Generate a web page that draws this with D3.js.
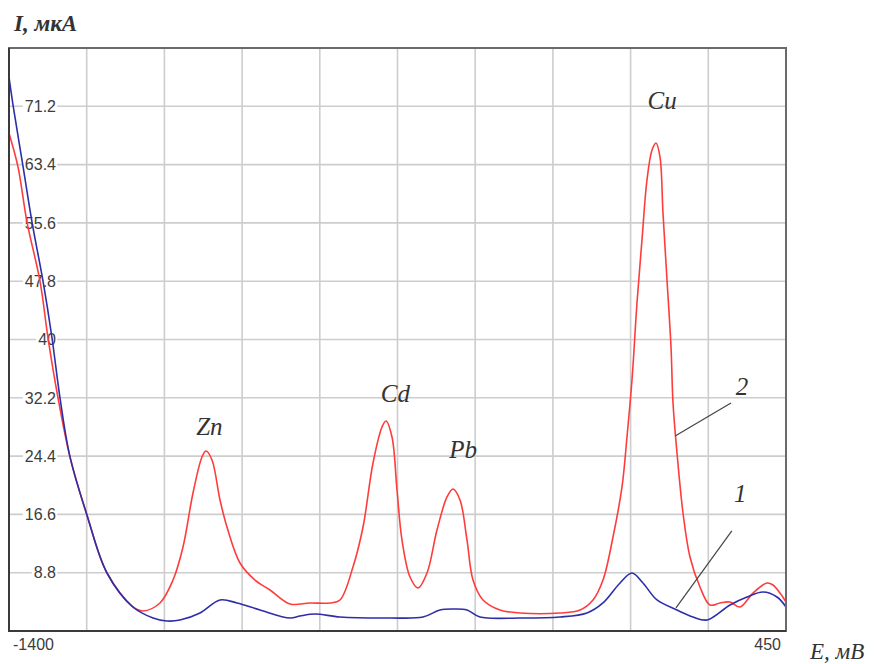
<!DOCTYPE html>
<html>
<head>
<meta charset="utf-8">
<script src="https://d3js.org/d3.v7.min.js"></script>
<style>
  body { margin: 0; background: #fff; }
  svg { display: block; }
</style>
</head>
<body>
<svg width="877" height="664"></svg>
<script>
// potential E, mV and current I, uA
var curve1E = [-1400, -1390.5, -1366.7, -1345.2, -1319, -1297.6, -1278.6, -1254.8, -1214.3, -1166.7,
    -1104.8, -1057.1, -1023.8, -992.9, -945.2, -897.6, -857.1, -802.4, -731, -707.1, -671.4, -611.9,
    -492.9, -414.3, -373.8, -342.9, -309.5, -278.6, -183.3, -88.1, -23.8, 14.3, 54.8, 83.3, 109.5,
    142.9, 190.5, 228.6, 261.9, 316.7, 357.1, 395.2, 428.6, 450];
var curve1I = [75.1, 71.4, 63.2, 55.7, 47.8, 40.2, 32.2, 24.3, 16.5, 8.76,
    4.21, 2.74, 2.34, 2.47, 3.41, 5.15, 4.75, 3.81, 2.74, 3.01, 3.27, 2.87,
    2.74, 2.87, 3.81, 3.94, 3.81, 2.87, 2.74, 2.87, 3.41, 4.75, 7.42, 8.76, 7.42,
    5.15, 3.81, 2.87, 2.47, 4.48, 5.55, 6.22, 5.55, 4.21];

var curve2E = [-1400, -1378.6, -1357.1, -1326.2, -1307.1, -1283.3, -1254.8, -1214.3, -1166.7, -1104.8,
    -1081, -1040.5, -1009.5, -985.7, -961.9, -940.5, -931, -916.7, -897.6, -881, -850, -814.3,
    -778.6, -731, -683.3, -635.7, -611.9, -581, -557.1, -533.3, -511.9, -502.4, -488.1, -476.2,
    -464.3, -445.2, -426.2, -404.8, -381, -357.1, -342.9, -326.2, -309.5, -295.2, -271.4, -231,
    -183.3, -88.1, -40.5, -9.5, 14.3, 38.1, 59.5, 71.4, 83.3, 95.2, 107.1, 119, 131, 140.5, 150,
    157.1, 166.7, 176.2, 181, 190.5, 204.8, 221.4, 245.2, 269, 292.9, 316.7, 340.5, 371.4, 404.8,
    419, 435.7, 450];
var curve2I = [67.6, 63.1, 55.7, 47.8, 40.2, 32.2, 24.3, 16.5, 8.76, 4.21,
    3.68, 4.75, 7.82, 12.24, 19.46, 24.28, 25.08, 23.88, 18.53, 14.91, 10.1, 7.82,
    6.49, 4.61, 4.75, 4.75, 5.15, 9.56, 14.91, 23.48, 28.29, 29.1, 26.96, 19.86,
    13.17, 8.22, 6.75, 8.76, 14.51, 18.93, 20, 18.53, 13.17, 7.82, 5.15, 3.81,
    3.41, 3.41, 3.81, 5.15, 7.82, 13.58, 20.27, 26.96, 34.58, 44.88, 53.31, 61.34, 65.35, 66.29, 64.41,
    56.92, 47.96, 39, 31.5, 24.81, 16.79, 10.9, 6.89, 4.48, 4.75, 4.88, 4.21, 6.08, 7.42,
    7.15, 6.08, 4.88];

var yTicks = [8.8, 16.6, 24.4, 32.2, 40, 47.8, 55.6, 63.4, 71.2];
var xGrid = [-1215, -1030, -845, -660, -475, -290, -105, 80, 265];
var xTickLabels = ["-1400", "450"];

var peaks = ["Zn", "Cd", "Pb", "Cu"];
var peakE = [-923, -480, -319, 155];
var peakI = [27.2, 31.6, 24.2, 70.8];

// curve numbers: label position and leader line ends (E, I)
var curveNames = ["2", "1"];
var nameE = [345, 341];
var nameI = [32.6, 18.3];
var leadE1 = [186, 188];
var leadI1 = [27.1, 4.1];
var leadE2 = [319, 321];
var leadI2 = [31.5, 14.4];

function createChart() {
    var svg = d3.select("svg"),
        margin = { top: 48, right: 91, bottom: 33, left: 9 },
        width = +svg.attr("width") - margin.left - margin.right,
        height = +svg.attr("height") - margin.top - margin.bottom,
        g = svg.append("g").attr("transform", "translate(" + margin.left + "," + margin.top + ")");

    var x = d3.scaleLinear().domain([-1400, 450]).range([0, width]);
    var y = d3.scaleLinear().domain([1, 79]).range([height, 0]);

    // grid
    g.append("g").selectAll("line")
        .data(xGrid)
        .enter().append("line")
        .attr("x1", function(d) { return x(d); })
        .attr("x2", function(d) { return x(d); })
        .attr("y1", 0)
        .attr("y2", height)
        .attr("stroke", "#cdcdcd")
        .attr("stroke-width", 1.6);

    g.append("g").selectAll("line")
        .data(yTicks)
        .enter().append("line")
        .attr("x1", 0)
        .attr("x2", width)
        .attr("y1", function(d) { return y(d); })
        .attr("y2", function(d) { return y(d); })
        .attr("stroke", "#cdcdcd")
        .attr("stroke-width", 1.6);

    // y tick labels sit on a white patch over the grid
    var yLab = g.append("g").selectAll("g")
        .data(yTicks)
        .enter().append("g")
        .attr("transform", function(d) { return "translate(47," + y(d) + ")"; });

    yLab.append("text")
        .attr("text-anchor", "end")
        .attr("dy", "0.36em")
        .attr("font-family", "Liberation Sans, Arial, sans-serif")
        .attr("font-size", 16)
        .attr("fill", "#3c3c3c")
        .text(function(d) { return d; });

    yLab.each(function() {
        var t = d3.select(this).select("text").node().getBBox();
        d3.select(this).insert("rect", "text")
            .attr("x", t.x - 2)
            .attr("y", t.y + 1)
            .attr("width", t.width + 3)
            .attr("height", t.height - 2)
            .attr("fill", "#fff");
    });

    // curves
    var line = d3.line()
        .x(function(d) { return x(d[0]); })
        .y(function(d) { return y(d[1]); })
        .curve(d3.curveCatmullRom.alpha(0.5));

    g.append("path")
        .datum(d3.zip(curve2E, curve2I))
        .attr("fill", "none")
        .attr("stroke", "#ff3c3c")
        .attr("stroke-width", 1.6)
        .attr("d", line);

    g.append("path")
        .datum(d3.zip(curve1E, curve1I))
        .attr("fill", "none")
        .attr("stroke", "#2e2ea8")
        .attr("stroke-width", 1.6)
        .attr("d", line);

    // frame
    g.append("rect")
        .attr("width", width)
        .attr("height", height)
        .attr("fill", "none")
        .attr("stroke", "#6a6a6a")
        .attr("stroke-width", 2);
    g.append("path")
        .attr("d", "M0,0V" + height + "H" + width)
        .attr("fill", "none")
        .attr("stroke", "#3a3a3a")
        .attr("stroke-width", 2);

    // x labels at the two ends
    g.append("g").selectAll("text")
        .data(xTickLabels)
        .enter().append("text")
        .attr("x", function(d, i) { return i === 0 ? 4 : width - 5; })
        .attr("y", height + 19)
        .attr("text-anchor", function(d, i) { return i === 0 ? "start" : "end"; })
        .attr("font-family", "Liberation Sans, Arial, sans-serif")
        .attr("font-size", 16)
        .attr("fill", "#3c3c3c")
        .text(function(d) { return d; });

    // peak names
    g.append("g").selectAll("text")
        .data(peaks)
        .enter().append("text")
        .attr("x", function(d, i) { return x(peakE[i]); })
        .attr("y", function(d, i) { return y(peakI[i]); })
        .attr("text-anchor", "middle")
        .attr("font-family", "Liberation Serif, Times New Roman, serif")
        .attr("font-style", "italic")
        .attr("font-size", 25)
        .attr("fill", "#333")
        .text(function(d) { return d; });

    // curve numbers with leader lines
    g.append("g").selectAll("line")
        .data(curveNames)
        .enter().append("line")
        .attr("x1", function(d, i) { return x(leadE1[i]); })
        .attr("y1", function(d, i) { return y(leadI1[i]); })
        .attr("x2", function(d, i) { return x(leadE2[i]); })
        .attr("y2", function(d, i) { return y(leadI2[i]); })
        .attr("stroke", "#444")
        .attr("stroke-width", 1.2);

    g.append("g").selectAll("text")
        .data(curveNames)
        .enter().append("text")
        .attr("x", function(d, i) { return x(nameE[i]); })
        .attr("y", function(d, i) { return y(nameI[i]); })
        .attr("text-anchor", "middle")
        .attr("font-family", "Liberation Serif, Times New Roman, serif")
        .attr("font-style", "italic")
        .attr("font-size", 25)
        .attr("fill", "#333")
        .text(function(d) { return d; });

    // axis titles
    svg.append("text")
        .attr("x", 14)
        .attr("y", 31)
        .attr("font-family", "Liberation Serif, Times New Roman, serif")
        .attr("font-style", "italic")
        .attr("font-weight", "bold")
        .attr("font-size", 23)
        .attr("fill", "#333")
        .text("I, мкА");

    svg.append("text")
        .attr("x", 810)
        .attr("y", 659)
        .attr("font-family", "Liberation Serif, Times New Roman, serif")
        .attr("font-style", "italic")
        .attr("font-size", 23)
        .attr("fill", "#333")
        .text("E, мВ");
}

createChart();
</script>
</body>
</html>
